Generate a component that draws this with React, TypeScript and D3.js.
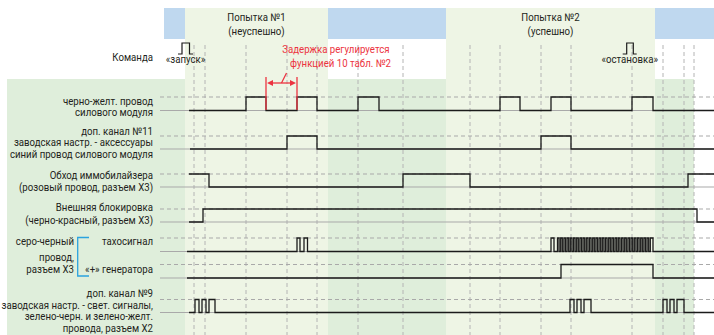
import React from "react";
import * as d3 from "d3";

// ---- DATA (time units) ----
const attempts = [
  { title: "Попытка №1", sub: "(неуспешно)", t0: 25, t1: 168 },
  { title: "Попытка №2", sub: "(успешно)", t0: 286, t1: 495 },
];
const panels = [
  [168, 286],
  [495, 534],
];
const markerTimes = [34, 45, 86, 127, 157, 198, 243, 310, 340, 381, 411, 472, 503, 524, 534];

const commandStart = { from: 18, to: 33, edges: [22, 29.5], label: "«запуск»" };
const commandStop = { from: 462.7, to: 476.7, edges: [466.7, 473.3], label: "«остановка»" };

const blackYellowEdges = [86, 106, 137, 157, 198, 219, 340, 360, 391, 411, 472, 493];
const ch11Edges = [127, 157, 381, 411];
const immoEdges = [49, 243, 310, 528];
const extLockEdges = [43, 537];
const tachoEdges = [
  137, 140, 144, 147.5, 391, 394,
  397.5, 399.1, 400.7, 402.3, 403.9, 405.5, 407.1, 408.7, 410.3, 411.9,
  413.5, 415.1, 416.7, 418.3, 419.9, 421.5, 423.1, 424.7, 426.3, 427.9,
  429.5, 431.1, 432.7, 434.3, 435.9, 437.5, 439.1, 440.7, 442.3, 443.9,
  445.5, 447.1, 448.7, 450.3, 451.9, 453.5, 455.1, 456.7, 458.3, 459.9,
  461.5, 463.1, 464.7, 466.3, 467.9, 469.5, 471.1, 472.7, 474.3, 475.9,
  477.5, 479.1, 480.7, 482.3, 483.9, 485.5, 487.1, 488.7, 490.3, 493,
];
const generatorEdges = [401, 493];
const ch9Edges = [35, 39, 42, 46, 49, 55, 410, 414, 417, 421, 424, 431, 503, 507, 510, 514, 517, 524];

const signals = [
  { name: "blackYellow", start: 29, init: 0, edges: blackYellowEdges, high: 97, low: 110.5 },
  { name: "ch11", start: 30, init: 0, edges: ch11Edges, high: 136, low: 149 },
  { name: "immo", start: 29, init: 1, edges: immoEdges, high: 174, low: 187 },
  { name: "extLock", start: 29, init: 0, edges: extLockEdges, high: 209, low: 222 },
  { name: "tacho", start: 27, init: 0, edges: tachoEdges, high: 238, low: 251.5 },
  { name: "generator", start: 27, init: 0, edges: generatorEdges, high: 264.5, low: 278 },
  { name: "ch9", start: 29, init: 0, edges: ch9Edges, high: 299.5, low: 312.5 },
];

const rowLabels: [string, number][] = [
  ["Команда", 57],
  ["черно-желт. провод", 101],
  ["силового модуля", 112.5],
  ["доп. канал №11", 131.5],
  ["заводская настр. - аксессуары", 142.5],
  ["синий провод силового модуля", 154],
  ["Обход иммобилайзера", 175.5],
  ["(розовый провод, разъем Х3)", 187],
  ["Внешняя блокировка", 207.5],
  ["(черно-красный, разъем Х3)", 220],
  ["тахосигнал", 241.5],
  ["«+» генератора", 269],
  ["доп. канал №9", 293],
  ["заводская настр. - свет. сигналы,", 305],
  ["зелено-черн. и зелено-желт.", 316.5],
  ["провода, разъем Х2", 328],
];
const wireLabels: [string, number][] = [
  ["серо-черный", 241.5],
  ["провод,", 257],
  ["разъем Х3", 269],
];
const delayText = ["Задержка регулируется", "функцией 10 табл. №2"];
const delayRange = [106, 137];

// ---- COMPONENT ----
const W = 714;
const H = 335;
const FONT = "Roboto, 'Noto Sans', sans-serif";
const TXT = "#231f20";
const GUIDE = "#a9a9a9";
const BLUE = "#bfd8ef";
const ATT = "#eef5e5";
const PAN = "#dfeedb";
const RED = "#ec3340";
const SX = 0.92;
const FS = 10.5;

function levelPoints(start: number, end: number, init: number, edges: number[]) {
  const pts: [number, number][] = [[start, init]];
  let lv = init;
  for (const e of edges) {
    pts.push([e, lv]);
    lv = 1 - lv;
    pts.push([e, lv]);
  }
  pts.push([end, lv]);
  return pts;
}

function T(props: { x: number; y: number; anchor?: string; fill?: string; dy?: string; children: React.ReactNode }) {
  return (
    <text
      transform={`translate(${props.x},${props.y}) scale(${SX},1)`}
      textAnchor={props.anchor || "start"}
      fill={props.fill || TXT}
      dy={props.dy}
      fontSize={FS}
    >
      {props.children}
    </text>
  );
}

export default function App() {
  const x = d3.scaleLinear().domain([0, 554]).range([160, 714]);
  const cmdY = d3.scaleLinear().domain([0, 1]).range([54, 43]);

  const mkLine = (yS: d3.ScaleLinear<number, number>) =>
    d3
      .line<[number, number]>()
      .x((d) => x(d[0]))
      .y((d) => yS(d[1]));

  const cmdPath = (c: typeof commandStart) => mkLine(cmdY)(levelPoints(c.from, c.to, 0, c.edges)) || "";
  const dA = x(delayRange[0]);
  const dB = x(delayRange[1]);

  return (
    <svg width={W} height={H} style={{ display: "block", position: "absolute", left: 0, top: 0 }} fontFamily={FONT}>
      <rect x={0} y={0} width={W} height={H} fill="#fff" />
      {/* top blue band */}
      <rect x={164} y={8} width={W - 164} height={31} fill={BLUE} />
      {/* left panel */}
      <rect x={7} y={79} width={x(attempts[0].t0) - 7} height={H - 79} fill={PAN} />
      {panels.map(([a, b], i) => (
        <rect key={"p" + i} x={x(a)} y={79} width={x(b) - x(a)} height={H - 79} fill={PAN} />
      ))}
      {attempts.map((a, i) => (
        <rect key={"a" + i} x={x(a.t0)} y={8} width={x(a.t1) - x(a.t0)} height={H - 8} fill={ATT} />
      ))}
      {attempts.map((a, i) => {
        const cx = (x(a.t0) + x(a.t1)) / 2;
        return (
          <g key={"at" + i}>
            <T x={cx} y={20.5} anchor="middle">{a.title}</T>
            <T x={cx} y={34.5} anchor="middle">{a.sub}</T>
          </g>
        );
      })}

      {/* vertical dashed markers */}
      {markerTimes.map((t, i) => (
        <line key={"m" + i} x1={x(t)} x2={x(t)} y1={45} y2={H} stroke="#b4b4b4" strokeWidth={1} strokeDasharray="4,3" />
      ))}

      {/* guide lines */}
      {signals.map((s) => (
        <g key={"g" + s.name}>
          <line x1={160} x2={W} y1={s.high} y2={s.high} stroke={GUIDE} strokeWidth={1} strokeDasharray="4,3" />
          <line x1={160} x2={W} y1={s.low} y2={s.low} stroke={GUIDE} strokeWidth={1} />
        </g>
      ))}

      {/* signals */}
      {signals.map((s) => {
        const yS = d3.scaleLinear().domain([0, 1]).range([s.low, s.high]);
        return (
          <path
            key={"s" + s.name}
            d={mkLine(yS)(levelPoints(s.start, 554, s.init, s.edges)) || ""}
            fill="none"
            stroke="#1b1b1b"
            strokeWidth={1.3}
          />
        );
      })}

      {/* commands */}
      {[commandStart, commandStop].map((c, i) => (
        <g key={"c" + i}>
          <path d={cmdPath(c)} fill="none" stroke="#1b1b1b" strokeWidth={1.2} />
          <T x={(x(c.from) + x(c.to)) / 2} y={62.5} anchor="middle">
            {c.label}
          </T>
        </g>
      ))}

      {/* red delay annotation */}
      <g stroke={RED} strokeWidth={1.3} fill="none">
        <line x1={dA} x2={dA} y1={77} y2={110} />
        <line x1={dB} x2={dB} y1={77} y2={110} />
        <line x1={dA + 5} x2={dB - 5} y1={83} y2={83} />
        <line x1={(dA + dB) / 2} y1={83} x2={(dA + dB) / 2 + 5} y2={73} />
      </g>
      <path d={`M${dA + 1},83 l6,-3 l0,6 z M${dB - 1},83 l-6,-3 l0,6 z`} fill={RED} />
      <T x={389.5} y={53} anchor="end" fill={RED}>{delayText[0]}</T>
      <T x={391} y={67} anchor="end" fill={RED}>{delayText[1]}</T>

      {/* row labels */}
      {rowLabels.map(([t, y], i) => (
        <T key={"l" + i} x={153} y={y} dy="0.35em" anchor="end">
          {t}
        </T>
      ))}
      {wireLabels.map(([t, y], i) => (
        <T key={"w" + i} x={74} y={y} dy="0.35em" anchor="end">
          {t}
        </T>
      ))}

      {/* bracket */}
      <path d="M89,237.5 H77.7 V276 H89" fill="none" stroke="#2ba3df" strokeWidth={1.3} />
    </svg>
  );
}
